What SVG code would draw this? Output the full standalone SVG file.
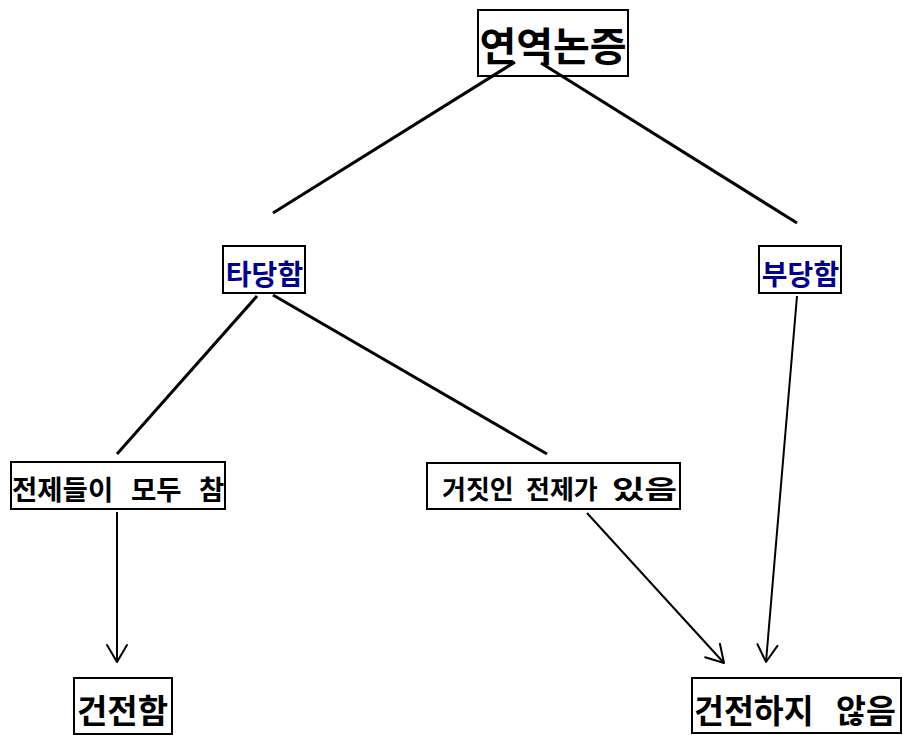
<svg xmlns="http://www.w3.org/2000/svg" width="903" height="735" viewBox="0 0 903 735">
<style>
.box{fill:none;stroke:#000;stroke-width:2}
.t{font-family:"Noto Sans CJK KR","Noto Sans CJK SC",sans-serif;font-weight:bold;fill:#000}
.blue{fill:#000090}
.c{text-anchor:middle}
.thick{stroke:#000;stroke-width:3;fill:none}
.arrow{stroke:#000;stroke-width:2;fill:none;marker-end:url(#ah)}
</style>
<defs>
<marker id="ah" markerUnits="userSpaceOnUse" viewBox="-20 -12 22 24" refX="0" refY="0" markerWidth="22" markerHeight="24" orient="auto" overflow="visible">
<path d="M-17,-10 L0,0 L-17,10" fill="none" stroke="#000" stroke-width="2" stroke-linecap="round" stroke-linejoin="round"/>
</marker>
</defs>
<rect width="903" height="735" fill="#fff"/>
<g id="connectors">
<line class="thick" x1="515" y1="62" x2="273" y2="213"/>
<line class="thick" x1="541" y1="63" x2="797" y2="223"/>
<line class="thick" x1="257" y1="296" x2="117" y2="454"/>
<line class="thick" x1="273" y1="295" x2="547" y2="454"/>
<line class="arrow" x1="117" y1="512" x2="117" y2="662"/>
<line class="arrow" x1="587" y1="513" x2="724" y2="663"/>
<line class="arrow" x1="797" y1="296" x2="766" y2="662"/>
</g>
<g id="n_root">
<rect class="box" x="478" y="10" width="150" height="66"/>
<text class="t c" x="553" y="61" font-size="40">연역논증</text>
</g>
<g id="n_valid">
<rect class="box" x="223" y="246" width="82" height="47"/>
<text class="t blue c" x="264.5" y="284.5" font-size="28">타당함</text>
</g>
<g id="n_invalid">
<rect class="box" x="759" y="246" width="82" height="47"/>
<text class="t blue c" x="800.5" y="284.5" font-size="28">부당함</text>
</g>
<g id="n_alltrue">
<rect class="box" x="11" y="462" width="214" height="47"/>
<text class="t" y="500" font-size="27.5"><tspan x="12">전제들이</tspan><tspan x="131">모두</tspan><tspan x="199">참</tspan></text>
</g>
<g id="n_somefalse">
<rect class="box" x="427" y="463" width="253" height="46"/>
<text class="t" y="498.5" font-size="26"><tspan x="442">거짓인</tspan><tspan x="526">전제가</tspan><tspan x="612" textLength="65" lengthAdjust="spacingAndGlyphs">있음</tspan></text>
</g>
<g id="n_sound">
<rect class="box" x="74" y="678" width="98" height="56"/>
<text class="t c" x="122.5" y="723" font-size="33">건전함</text>
</g>
<g id="n_unsound">
<rect class="box" x="692" y="678" width="209" height="55"/>
<text class="t" y="722.5" font-size="32.5"><tspan x="694">건전하지</tspan><tspan x="836">않음</tspan></text>
</g>
</svg>
